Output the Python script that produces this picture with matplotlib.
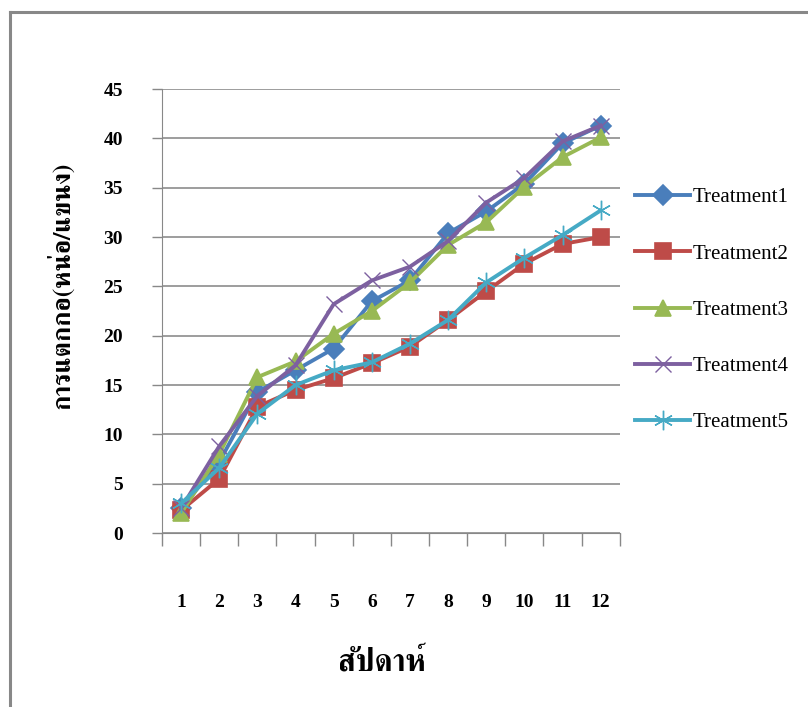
import matplotlib
matplotlib.use("Agg")
import matplotlib.pyplot as plt
from matplotlib.lines import Line2D

weeks = [1, 2, 3, 4, 5, 6, 7, 8, 9, 10, 11, 12]
treatment1 = [2.5, 7.2, 14.3, 16.5, 18.7, 23.5, 25.6, 30.4, 32.6, 35.4, 39.5, 41.3]
treatment2 = [2.3, 5.5, 12.8, 14.5, 15.7, 17.2, 18.9, 21.6, 24.5, 27.3, 29.3, 30.0]
treatment3 = [2.0, 8.0, 15.8, 17.4, 20.2, 22.5, 25.4, 29.2, 31.5, 35.1, 38.1, 40.1]
treatment4 = [2.5, 8.8, 13.9, 17.0, 23.2, 25.6, 27.0, 29.6, 33.5, 36.0, 39.7, 41.3]
treatment5 = [3.0, 6.6, 12.1, 15.0, 16.5, 17.3, 19.2, 21.6, 25.4, 27.9, 30.2, 32.7]
labels = ["Treatment1", "Treatment2", "Treatment3", "Treatment4", "Treatment5"]
ylabel = "การแตกกอ(หน่อ/แขนง)"
xlabel = "สัปดาห์"

thai_family = ["FreeSerif", "DejaVu Sans"]

fig = plt.figure(figsize=(8.08, 7.07), dpi=100)
ax = fig.add_axes([0.2005, 0.246, 0.5665, 0.628])

# colour, marker, size, edge width
styles = [
    ("#4A7EBB", "D", 10, 1.2),
    ("#BE4B48", "s", 11, 1.2),
    ("#98B954", "^", 12, 1.2),
    ("#7D60A0", "x", 12, 1.0),
    ("#46AAC5", (6, 2, 0), 14, 1.0),
]
series = [treatment1, treatment2, treatment3, treatment4, treatment5]
for vals, lab, (c, m, ms, mew) in zip(series, labels, styles):
    ax.plot(weeks, vals, color=c, lw=2.8, marker=m, ms=ms, mew=mew,
            mec=c, label=lab)

ax.set_ylim(0, 45)
ax.set_yticks(range(0, 50, 5))
ax.set_xlim(0.5, 12.5)
# category boundaries get the tick marks, centres get the labels
ax.set_xticks([i + 0.5 for i in range(0, 13)])
ax.set_xticklabels([])
ax.set_xticks(weeks, minor=True)
ax.set_xticklabels([str(w) for w in weeks], minor=True)
ax.tick_params(axis="x", which="minor", length=0, pad=44)
ax.tick_params(axis="x", which="major", length=9, color="#888888", width=1)
ax.tick_params(axis="y", length=7, color="#888888", width=1, pad=21)
for lbl in ax.get_xticklabels(minor=True) + ax.get_yticklabels():
    lbl.set_fontfamily("Liberation Serif")
    lbl.set_fontweight("bold")
    lbl.set_fontsize(14)
ax.grid(axis="y", color="#8c8c8c", lw=1.2)
for s in ["top", "right"]:
    ax.spines[s].set_visible(False)
ax.spines["left"].set_color("#888888")
ax.spines["bottom"].set_color("#888888")

fig.text(0.0755, 0.597, ylabel, rotation=90, ha="center", va="center",
         fontsize=18.5, fontweight="bold", family=thai_family)
fig.text(0.473, 0.064, xlabel, ha="center", va="center", fontsize=22,
         fontweight="bold", family=thai_family)

fig.legend(loc="upper left", bbox_to_anchor=(0.763, 0.761),
           frameon=False, labelspacing=1.76, handlelength=2.65,
           handletextpad=0.1, prop={"family": "Liberation Serif", "size": 15})

# outer chart frame (only left and top edges fall inside the picture)
fig.add_artist(Line2D([0.0118, 0.0118], [0, 0.983], color="#888888", lw=2.2))
fig.add_artist(Line2D([0.0118, 1], [0.983, 0.983], color="#888888", lw=2.2))

fig.savefig("out.png", dpi=100)
